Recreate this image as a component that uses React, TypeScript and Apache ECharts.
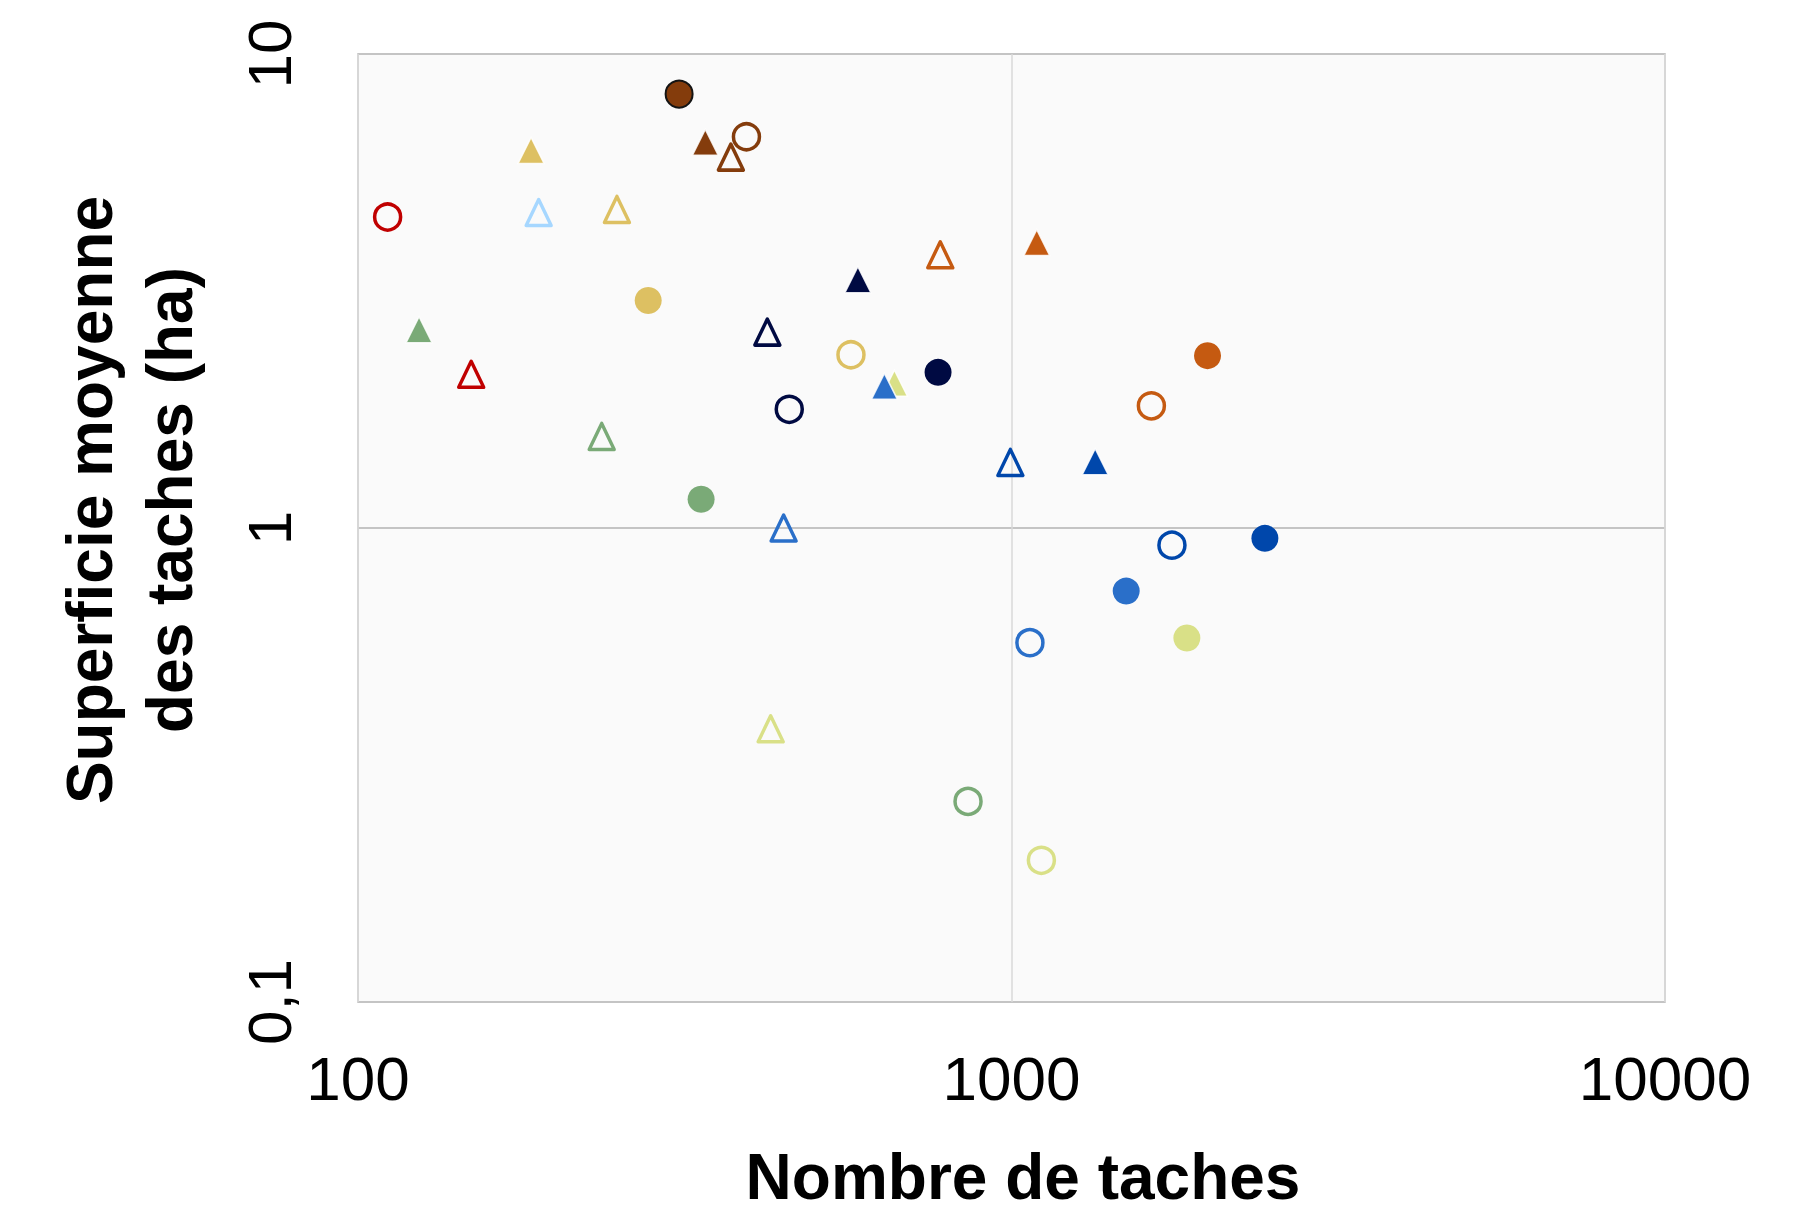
import React, { useEffect, useRef } from "react";
import * as echarts from "echarts";

// ---- data (x = Nombre de taches, y = Superficie moyenne des taches (ha), colour group) ----
const filledCircles: [number, number, string][] = [
  [310, 8.23, "brown"],
  [278, 3.02, "gold"],
  [335, 1.15, "green"],
  [772, 2.13, "navy"],
  [1995, 2.31, "orange"],
  [2442, 0.951, "blue"],
  [1498, 0.736, "midBlue"],
  [1855, 0.586, "lime"],
];

const openCircles: [number, number, string][] = [
  [111, 4.53, "red"],
  [393, 6.69, "brown"],
  [568, 2.32, "gold"],
  [457, 1.78, "navy"],
  [1637, 1.81, "orange"],
  [1760, 0.92, "blue"],
  [1067, 0.573, "midBlue"],
  [858, 0.265, "green"],
  [1111, 0.199, "lime"],
];

const filledTriangles: [number, number, string][] = [
  [184, 6.26, "gold"],
  [340, 6.51, "brown"],
  [124, 2.62, "green"],
  [582, 3.34, "navy"],
  [662, 2.02, "lime"],
  [639, 1.99, "midBlue"],
  [1093, 4.0, "orange"],
  [1343, 1.38, "blue"],
];

const openTriangles: [number, number, string][] = [
  [189, 4.63, "lightBlue"],
  [249, 4.7, "gold"],
  [372, 6.06, "brown"],
  [149, 2.11, "red"],
  [236, 1.56, "green"],
  [423, 2.59, "navy"],
  [448, 1.0, "midBlue"],
  [778, 3.77, "orange"],
  [996, 1.375, "blue"],
  [428, 0.377, "lime"],
];

const xTicks = [100, 1000, 10000];
const yTicks = [0.1, 1, 10];
const xTitle = "Nombre de taches";
const yTitle = "Superficie moyenne\ndes taches (ha)";

const palette: Record<string, string> = {
  brown: "#843C0C",
  gold: "#DDC062",
  green: "#7AAA77",
  navy: "#000A42",
  orange: "#C55A11",
  blue: "#0047AB",
  midBlue: "#2A6FC9",
  lime: "#D9E087",
  red: "#C00000",
  lightBlue: "#A6D7FF",
};

const FONT = '"Liberation Sans", Arial, sans-serif';

function fmt(v: number): string {
  return String(Number(v.toPrecision(3))).replace(".", ",");
}

export default function App() {
  const ref = useRef<HTMLDivElement>(null);

  useEffect(() => {
    if (!ref.current) return;
    const chart = echarts.init(ref.current, null, { renderer: "svg" });

    const filledCircleSeries = {
      type: "scatter",
      name: "cercles pleins",
      symbol: "circle",
      symbolSize: 27,
      z: 3,
      data: filledCircles.map(([x, y, c]) => ({
        value: [x, y],
        itemStyle: {
          color: palette[c],
          opacity: 1,
          borderColor: c === "brown" ? "#141414" : palette[c],
          borderWidth: c === "brown" ? 2 : 0,
        },
      })),
    };

    const openCircleSeries = {
      type: "scatter",
      name: "cercles vides",
      symbol: "circle",
      symbolSize: 26,
      z: 3,
      data: openCircles.map(([x, y, c]) => ({
        value: [x, y],
        itemStyle: {
          color: "rgba(0,0,0,0)",
          opacity: 1,
          borderColor: palette[c],
          borderWidth: 3.5,
        },
      })),
    };

    const filledTriangleSeries = {
      type: "scatter",
      name: "triangles pleins",
      symbol: "triangle",
      symbolSize: [26, 26],
      z: 3,
      data: filledTriangles.map(([x, y, c]) => ({
        value: [x, y],
        itemStyle: {
          color: palette[c],
          opacity: 1,
          borderColor: "rgba(255,255,255,0.85)",
          borderWidth: 1.5,
        },
      })),
    };

    const openTriangleSeries = {
      type: "scatter",
      name: "triangles vides",
      symbol: "triangle",
      symbolSize: [25, 26],
      z: 3,
      data: openTriangles.map(([x, y, c]) => ({
        value: [x, y],
        itemStyle: {
          color: "rgba(0,0,0,0)",
          opacity: 1,
          borderColor: palette[c],
          borderWidth: 3.5,
          borderJoin: "round",
        },
      })),
    };

    chart.setOption({
      animation: false,
      backgroundColor: "#FFFFFF",
      grid: {
        left: 358,
        top: 54,
        width: 1307,
        height: 948,
        show: true,
        backgroundColor: "#FAFAFA",
        borderColor: "#D3D3D3",
        borderWidth: 2,
      },
      xAxis: {
        type: "log",
        logBase: 10,
        min: xTicks[0],
        max: xTicks[xTicks.length - 1],
        axisLine: { show: false },
        axisTick: { show: false },
        splitLine: { show: true, lineStyle: { color: "#D9D9D9", width: 1.5 } },
        axisLabel: {
          fontSize: 62,
          fontFamily: FONT,
          color: "#000000",
          margin: 45,
          formatter: (v: number) => fmt(v),
        },
      },
      yAxis: {
        type: "log",
        logBase: 10,
        min: yTicks[0],
        max: yTicks[yTicks.length - 1],
        axisLine: { show: false },
        axisTick: { show: false },
        splitLine: { show: true, lineStyle: { color: "#C4C4C4", width: 2 } },
        axisLabel: {
          fontSize: 62,
          fontFamily: FONT,
          color: "#000000",
          rotate: 90,
          margin: 58,
          formatter: (v: number) => fmt(v),
        },
      },
      graphic: [
        {
          type: "text",
          x: 1023,
          y: 1177,
          style: {
            text: xTitle,
            fontSize: 64,
            fontWeight: "bold",
            fontFamily: FONT,
            fill: "#000000",
            align: "center",
            verticalAlign: "middle",
            textAlign: "center",
            textVerticalAlign: "middle",
          },
        },
        {
          type: "text",
          x: 130,
          y: 500,
          rotation: Math.PI / 2,
          style: {
            text: yTitle,
            fontSize: 64,
            fontWeight: "bold",
            fontFamily: FONT,
            lineHeight: 80,
            fill: "#000000",
            align: "center",
            verticalAlign: "middle",
            textAlign: "center",
            textVerticalAlign: "middle",
          },
        },
      ],
      series: [openCircleSeries, filledCircleSeries, filledTriangleSeries, openTriangleSeries],
    });

    return () => chart.dispose();
  }, []);

  return (
    <div
      ref={ref}
      style={{ position: "absolute", left: 0, top: 0, width: 1797, height: 1213 }}
    />
  );
}
